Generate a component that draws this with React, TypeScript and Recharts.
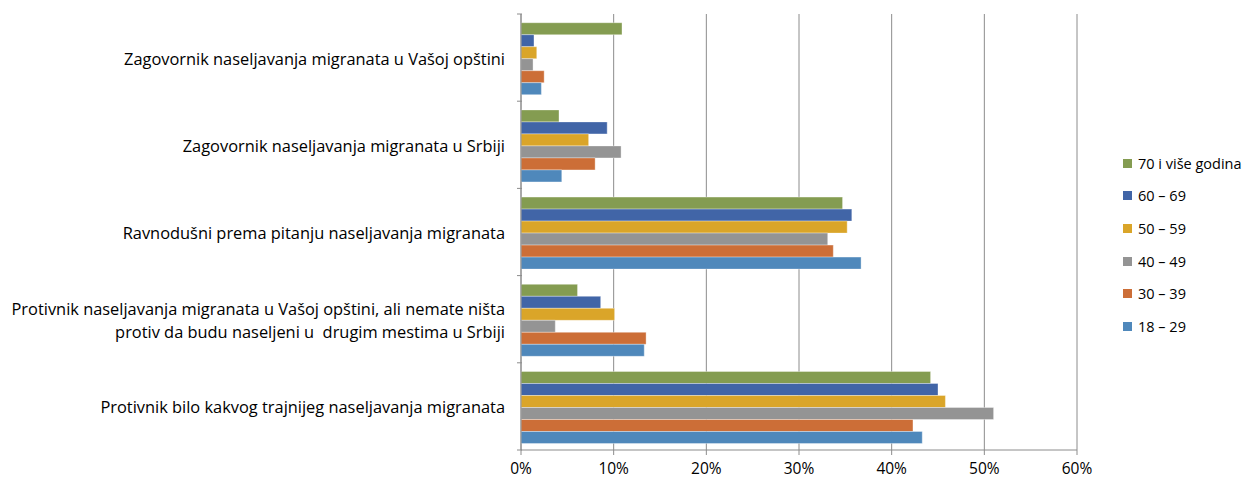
import { Bar, BarChart, CartesianGrid, Legend, XAxis, YAxis } from "recharts";

// kategorije (odozgo na dole), "\n" = prelom reda u oznaci
const categories = [
  "Zagovornik naseljavanja migranata u Vašoj opštini",
  "Zagovornik naseljavanja migranata u Srbiji",
  "Ravnodušni prema pitanju naseljavanja migranata",
  "Protivnik naseljavanja migranata u Vašoj opštini, ali nemate ništa\nprotiv da budu naseljeni u  drugim mestima u Srbiji",
  "Protivnik bilo kakvog trajnijeg naseljavanja migranata",
];

const age70plus = [0.109, 0.041, 0.347, 0.061, 0.442];
const age60_69 = [0.014, 0.093, 0.357, 0.086, 0.45];
const age50_59 = [0.017, 0.073, 0.352, 0.101, 0.458];
const age40_49 = [0.013, 0.108, 0.331, 0.037, 0.51];
const age30_39 = [0.025, 0.08, 0.337, 0.135, 0.423];
const age18_29 = [0.022, 0.044, 0.367, 0.133, 0.433];

const xTicks = [0, 0.1, 0.2, 0.3, 0.4, 0.5, 0.6];

const series = [
  { key: "a70", name: "70 i više godina", values: age70plus, color: "#849C51" },
  { key: "a60", name: "60 – 69", values: age60_69, color: "#4165A7" },
  { key: "a50", name: "50 – 59", values: age50_59, color: "#DAA529" },
  { key: "a40", name: "40 – 49", values: age40_49, color: "#949494" },
  { key: "a30", name: "30 – 39", values: age30_39, color: "#CC6E37" },
  { key: "a18", name: "18 – 29", values: age18_29, color: "#4F88BB" },
];
const legendOrder = series.map((s) => s.name);

const data = categories.map((c, i) => {
  const row: Record<string, string | number> = { category: c };
  series.forEach((s) => (row[s.key] = s.values[i]));
  return row;
});

const FONT = "'Open Sans', 'Noto Sans', sans-serif";
const AXIS = "#8C8C8C";

function CategoryTick(props: any) {
  const { x, y, payload, index } = props;
  const half = payload.offset || 43.6;
  const lines = String(payload.value).split("\n");
  const lh = 23;
  const top = y - ((lines.length - 1) * lh) / 2;
  const ax = x + 9;
  return (
    <g>
      <line x1={ax - 5} x2={ax} y1={y - half} y2={y - half} stroke={AXIS} />
      {index === categories.length - 1 && (
        <line x1={ax - 5} x2={ax} y1={y + half} y2={y + half} stroke={AXIS} />
      )}
      <text
        x={x - 8}
        y={top}
        textAnchor="end"
        dominantBaseline="central"
        fontFamily={FONT}
        fontSize={16.4}
        fill="#000"
      >
        {lines.map((l, i) => (
          <tspan key={i} x={x - 8} y={top + i * lh} style={{ whiteSpace: "pre" }}>
            {l}
          </tspan>
        ))}
      </text>
    </g>
  );
}

function LegendBox(props: any) {
  const items = [...(props.payload || [])].sort(
    (a: any, b: any) => legendOrder.indexOf(a.value) - legendOrder.indexOf(b.value)
  );
  return (
    <div style={{ fontFamily: FONT, fontSize: 14.5, color: "#000" }}>
      {items.map((it: any) => (
        <div
          key={it.value}
          style={{ height: 32.6, display: "flex", alignItems: "center", whiteSpace: "nowrap" }}
        >
          <span
            style={{ width: 9, height: 9, background: it.color, marginRight: 6, display: "inline-block" }}
          />
          {it.value}
        </div>
      ))}
    </div>
  );
}

export default function App() {
  return (
    <div style={{ position: "absolute", left: 0, top: 0, background: "#fff" }}>
      <BarChart
        width={1245}
        height={481}
        data={data}
        layout="vertical"
        margin={{ top: 14, right: 168, bottom: 1, left: 0 }}
        barCategoryGap="10%"
        barGap={0}
      >
        <CartesianGrid horizontal={false} stroke={AXIS} strokeWidth={1} />
        <XAxis
          type="number"
          domain={[0, 0.6]}
          ticks={xTicks}
          tickFormatter={(v: number) => `${Math.round(v * 100)}%`}
          axisLine={{ stroke: AXIS }}
          tickLine={{ stroke: AXIS }}
          tickSize={5}
          tickMargin={8}
          height={30}
          tick={{ fontFamily: FONT, fontSize: 15.5, fill: "#000" }}
          interval={0}
        />
        <YAxis
          type="category"
          dataKey="category"
          width={521}
          axisLine={{ stroke: AXIS }}
          tickLine={false}
          tick={<CategoryTick />}
          interval={0}
        />
        <Legend
          layout="vertical"
          align="center"
          verticalAlign="middle"
          content={<LegendBox />}
          wrapperStyle={{ left: 1123, top: 147, width: "auto" }}
        />
        {series.map((s) => (
          <Bar
            key={s.key}
            dataKey={s.key}
            name={s.name}
            fill={s.color}
            stroke="#ffffff"
            strokeOpacity={0.35}
            strokeWidth={1}
            isAnimationActive={false}
          />
        ))}
      </BarChart>
    </div>
  );
}
